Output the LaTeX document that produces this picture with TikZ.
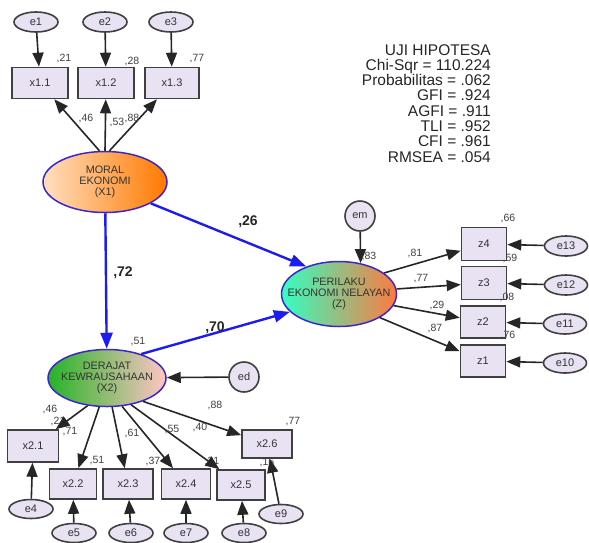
\documentclass[tikz,border=0pt]{standalone}
\usepackage{fontspec}
\setmainfont{Liberation Sans}
\usetikzlibrary{calc,shapes.geometric,arrows.meta}
\definecolor{boxfill}{RGB}{232,226,242}
\definecolor{pathblue}{RGB}{28,28,240}
\definecolor{edgeblue}{RGB}{60,40,200}
\tikzset{
	obs/.style={draw=black!75, line width=1.6pt, fill=boxfill, minimum width=49pt, minimum height=31pt, inner sep=0pt, text=black!80, font=\fontsize{11}{12}\selectfont},
	err/.style={ellipse, draw=black!75, line width=1.6pt, fill=boxfill, minimum width=44pt, minimum height=20pt, inner sep=0pt, text=black!80, font=\fontsize{11}{12}\selectfont},
	errc/.style={circle, draw=black!75, line width=1.6pt, fill=boxfill, minimum size=30pt, inner sep=0pt, text=black!80, font=\fontsize{11}{12}\selectfont},
	latent/.style={ellipse, draw=edgeblue, line width=1.5pt, inner sep=-18pt, align=center, text=black!80, font=\fontsize{10.8}{11}\selectfont},
	coef/.style={inner sep=0pt, text=black!75, font=\fontsize{10.5}{11}\selectfont},
	bigcoef/.style={inner sep=0pt, text=black!85, font=\fontsize{14}{15}\selectfont\bfseries},
	load/.style={-{Triangle[length=14pt,width=11pt]}, line width=1.6pt, draw=black!85},
	struct/.style={-{Triangle[length=16pt,width=12pt]}, line width=2.4pt, draw=pathblue, fill=pathblue},
}

\begin{document}
\begin{tikzpicture}[x=1pt, y=-1pt]
		%%%%% START %%%%%
		\useasboundingbox (0,0) rectangle (589,542);
		
		% fit indices
		\node[align=right, anchor=north east, inner sep=0pt, text=black!85, font=\fontsize{15.5}{15.3}\selectfont] (fit) at (491,44) {UJI HIPOTESA\\Chi-Sqr = 110.224\\Probabilitas = .062\\GFI = .924\\AGFI = .911\\TLI = .952\\CFI = .961\\RMSEA = .054};
		
		% latent variables
		\node[latent, minimum width=124pt, minimum height=61pt, left color=orange!25, right color=orange!95!red] (moral) at (105,182) {MORAL\\EKONOMI\\(X1)};
		\node[latent, minimum width=118pt, minimum height=57pt, left color=green!65!black!85, right color=pink!90] (derajat) at (107,378) {DERAJAT\\KEWRAUSAHAAN\\(X2)};
		\node[latent, minimum width=115pt, minimum height=65pt, left color=cyan!70!green!80, right color=orange!60!red!75] (perilaku) at (339,294) {PERILAKU\\EKONOMI NELAYAN\\(Z)};
		
		% indicators of X1
		\node[obs, minimum width=56pt] (x11) at (40,83) {x1.1};
		\node[obs, minimum width=56pt] (x12) at (106,83) {x1.2};
		\node[obs, minimum width=54pt] (x13) at (172,83) {x1.3};
		\node[err] (e1) at (36,22) {e1};
		\node[err] (e2) at (105,22) {e2};
		\node[err] (e3) at (171,22) {e3};
		\draw[load] (e1) -- (x11);
		\draw[load] (e2) -- (x12);
		\draw[load] (e3) -- (x13);
		\draw[load] (moral.100) -- (x11);
		\draw[load] (moral.90) -- (x12);
		\draw[load] (moral.82) -- (x13);
		\node[coef] (r11) at (64,59) {,21};
		\node[coef] (r12) at (132,62) {,28};
		\node[coef] (r13) at (197,59) {,77};
		\node[coef] (l11) at (86,118) {,46};
		\node[coef] (l12) at (117,122) {,53};
		\node[coef] (l13) at (132,118) {,88};
		
		% indicators of Z
		\node[obs, minimum width=45pt, minimum height=33pt] (z4) at (484,244) {z4};
		\node[obs, minimum width=45pt, minimum height=33pt] (z3) at (484,283) {z3};
		\node[obs, minimum width=45pt, minimum height=32pt] (z2) at (483,322) {z2};
		\node[obs, minimum width=45pt, minimum height=32pt] (z1) at (483,361) {z1};
		\node[err, minimum width=43pt] (e13) at (566,246) {e13};
		\node[err, minimum width=43pt] (e12) at (566,285) {e12};
		\node[err, minimum width=43pt] (e11) at (565,324) {e11};
		\node[err, minimum width=43pt] (e10) at (565,363) {e10};
		\node[coef] (rz4) at (508,218) {,66};
		\node[coef] (rz3) at (510,258) {,59};
		\node[coef] (rz2) at (507,297) {,08};
		\node[coef] (rz1) at (508,335) {,76};
		\draw[load] (e13) -- (z4);
		\draw[load] (e12) -- (z3);
		\draw[load] (e11) -- (z2);
		\draw[load] (e10) -- (z1);
		\draw[load] (perilaku.25) -- (z4);
		\draw[load] (perilaku.5) -- (z3);
		\draw[load] (perilaku.-12) -- (z2);
		\draw[load] (perilaku.-30) -- (z1);
		\node[coef] (lz4) at (415,253) {,81};
		\node[coef] (lz3) at (421,279) {,77};
		\node[coef] (lz2) at (437,305) {,29};
		\node[coef] (lz1) at (435,328) {,87};
		
		% disturbances
		\node[errc] (em) at (360,216) {em};
		\node[errc] (ed) at (244,377) {ed};
		\node[coef] (rz) at (369,256) {,83};
		\draw[load] (em) -- (perilaku.55);
		\draw[load] (ed) -- (derajat);
		
		% indicators of X2
		\node[obs, minimum width=51pt, minimum height=32pt] (x21) at (33,446) {x2.1};
		\node[obs, minimum width=47pt, minimum height=30pt] (x22) at (73,484) {x2.2};
		\node[obs, minimum width=50pt, minimum height=30pt] (x23) at (128,484) {x2.3};
		\node[obs, minimum width=49pt, minimum height=30pt] (x24) at (186,484) {x2.4};
		\node[obs, minimum width=48pt, minimum height=30pt] (x25) at (241,485) {x2.5};
		\node[obs, minimum width=50pt, minimum height=28pt] (x26) at (267,444) {x2.6};
		\node[coef] (r21) at (58,421) {,21};
		\node[coef] (r22) at (97,461) {,51};
		\node[coef] (r23) at (153,461) {,37};
		\node[coef] (r25) at (212,461) {,31};
		\node[coef] (r26) at (293,422) {,77};
		\node[coef] (r24) at (267,462) {,16};
		\node[err, minimum height=19pt] (e4) at (31,509) {e4};
		\node[err, minimum height=19pt] (e5) at (74,533) {e5};
		\node[err, minimum height=19pt] (e6) at (131,533) {e6};
		\node[err, minimum height=19pt] (e7) at (186,533) {e7};
		\node[err, minimum height=19pt] (e8) at (244,533) {e8};
		\node[err, minimum height=19pt] (e9) at (281,514) {e9};
		\draw[load] (e4) -- (x21);
		\draw[load] (e5) -- (x22);
		\draw[load] (e6) -- (x23);
		\draw[load] (e7) -- (x24);
		\draw[load] (e8) -- (x25);
		\draw[load] (e9) -- (x26);
		\draw[load] (derajat.235) -- (x21);
		\draw[load] (derajat.255) -- (x22);
		\draw[load] (derajat.-80) -- (x23);
		\draw[load] (derajat.-62) -- (x24);
		\draw[load] (derajat.-48) -- (x25);
		\draw[load] (derajat.-33) -- (x26);
		\node[coef] (l21) at (50,409) {,46};
		\node[coef] (l22) at (70,432) {,71};
		\node[coef] (l23) at (132,433) {,61};
		\node[coef] (l24) at (172,430) {,55};
		\node[coef] (l25) at (200,427) {,40};
		\node[coef] (l26) at (215,405) {,88};
		
		% structural paths
		\draw[struct] (moral) -- (derajat);
		\draw[struct] (moral.-25) -- (perilaku.140);
		\draw[struct] (derajat.35) -- (perilaku.200);
		\node[bigcoef] (p1) at (123,273) {,72};
		\node[bigcoef] (p2) at (248,222) {,26};
		\node[bigcoef] (p3) at (215,328) {,70};
		\node[coef] (rx2) at (138,342) {,51};
		
		%%%%% END %%%%%
	\end{tikzpicture}
\end{document}
